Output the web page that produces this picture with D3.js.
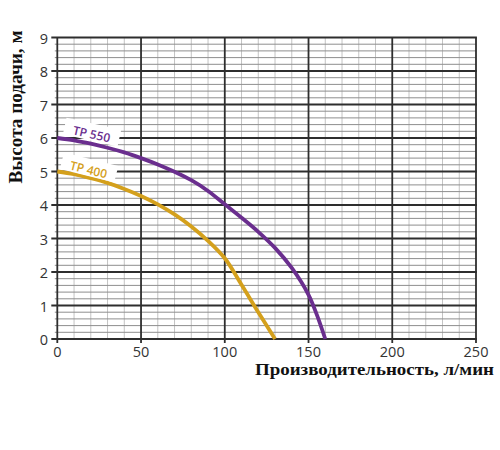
<!DOCTYPE html>
<html><head><meta charset="utf-8">
<script src="https://cdn.jsdelivr.net/npm/d3@7"></script>
<style>html,body{margin:0;padding:0;background:#fff;}</style>
</head><body>
<svg id="c" width="500" height="450"></svg>
<script>
const xTicks = [0, 50, 100, 150, 200, 250];
const yTicks = [0, 1, 2, 3, 4, 5, 6, 7, 8, 9];
const tp550Flow = [0, 10, 20, 30, 40, 50, 60, 70, 80, 90, 100, 110, 120, 130, 140, 150, 155, 160];
const tp550Head = [6.0, 5.93, 5.83, 5.71, 5.57, 5.40, 5.21, 4.99, 4.74, 4.42, 4.02, 3.62, 3.2, 2.72, 2.12, 1.32, 0.72, 0];
const tp400Flow = [0, 10, 20, 30, 40, 50, 60, 70, 80, 90, 100, 110, 120, 130];
const tp400Head = [5.0, 4.92, 4.8, 4.66, 4.48, 4.27, 4.02, 3.72, 3.36, 2.93, 2.41, 1.62, 0.8, 0];
const seriesNames = ["TP 550", "TP 400"];
const xTitle = "Производительность, л/мин";
const yTitle = "Высота подачи, м";

const svg = d3.select("#c");
const x = d3.scaleLinear().domain([0, 250]).range([57.3, 476]);
const y = d3.scaleLinear().domain([0, 9]).range([339, 37.5]);

const g = svg.append("g");
// minor vertical
g.selectAll(".mv").data(d3.range(0, 251, 10).filter(v => v % 50 !== 0)).join("line")
  .attr("x1", d => x(d)).attr("x2", d => x(d)).attr("y1", y(0)).attr("y2", y(9))
  .attr("stroke", "#c4c4c4").attr("stroke-width", 1);
// minor horizontal
g.selectAll(".mh").data(d3.range(0, 45).map(i => i * 0.2).filter((v, i) => i % 5 !== 0)).join("line")
  .attr("x1", x(0) - 2.5).attr("x2", x(250)).attr("y1", d => y(d)).attr("y2", d => y(d))
  .attr("stroke", "#8e8e8e").attr("stroke-width", 1);
// major vertical
g.selectAll(".Mv").data(xTicks).join("line")
  .attr("x1", d => x(d)).attr("x2", d => x(d)).attr("y1", y(0) + 4).attr("y2", y(9))
  .attr("stroke", "#2e2e2e").attr("stroke-width", 1.8);
// major horizontal
g.selectAll(".Mh").data(yTicks).join("line")
  .attr("x1", x(0) - 6).attr("x2", x(250) + 0.9).attr("y1", d => y(d)).attr("y2", d => y(d))
  .attr("stroke", "#2e2e2e").attr("stroke-width", 1.8);

// tick labels
svg.selectAll(".yl").data(yTicks).join("text")
  .attr("x", 48).attr("y", d => y(d) + 6).attr("text-anchor", "end")
  .attr("font-family", "Open Sans, sans-serif").attr("font-size", 14.5).attr("fill", "#333")
  .text(d => d);
svg.selectAll(".xl").data(xTicks).join("text")
  .attr("x", d => x(d)).attr("y", 356.5).attr("text-anchor", "middle")
  .attr("font-family", "Open Sans, sans-serif").attr("font-size", 14.5).attr("fill", "#333")
  .text(d => d);

// curves
const line = d3.line().x(d => x(d[0])).y(d => y(d[1])).curve(d3.curveCatmullRom.alpha(0.5));
const s550 = tp550Flow.map((f, i) => [f, tp550Head[i]]);
const s400 = tp400Flow.map((f, i) => [f, tp400Head[i]]);
const colors = ["#6a2e8e", "#d4a01c"];
[s550, s400].forEach((s, i) => {
  svg.append("path").attr("d", line(s)).attr("fill", "none")
    .attr("stroke", colors[i]).attr("stroke-width", 3.8).attr("stroke-linecap", "butt");
});

// curve labels
const labelPos = [[91.5, 134.5, 12.5], [88.5, 170, 14]];
seriesNames.forEach((n, i) => {
  const lg = svg.append("g").attr("transform", `translate(${labelPos[i][0]},${labelPos[i][1]}) rotate(${labelPos[i][2]})`);
  lg.append("rect").attr("x", -28).attr("y", -11).attr("width", 56).attr("height", 17).attr("fill", "#fff");
  lg.append("text").attr("x", 0).attr("y", 4).attr("text-anchor", "middle")
    .attr("font-family", "Open Sans, sans-serif").attr("font-weight", 600).attr("font-size", 12).attr("fill", colors[i])
    .text(n);
});

// titles
svg.append("text").attr("x", 494).attr("y", 375).attr("text-anchor", "end")
  .attr("font-family", "Liberation Serif, Times New Roman, serif").attr("font-weight", "bold")
  .attr("font-size", 17).attr("textLength", 239).attr("lengthAdjust", "spacingAndGlyphs")
  .attr("fill", "#111").text(xTitle);
svg.append("text").attr("transform", "translate(22,107) rotate(-90)").attr("text-anchor", "middle")
  .attr("font-family", "Liberation Serif, Times New Roman, serif").attr("font-weight", "bold")
  .attr("font-size", 18).attr("textLength", 153).attr("lengthAdjust", "spacingAndGlyphs")
  .attr("fill", "#111").text(yTitle);
</script>
</body></html>
